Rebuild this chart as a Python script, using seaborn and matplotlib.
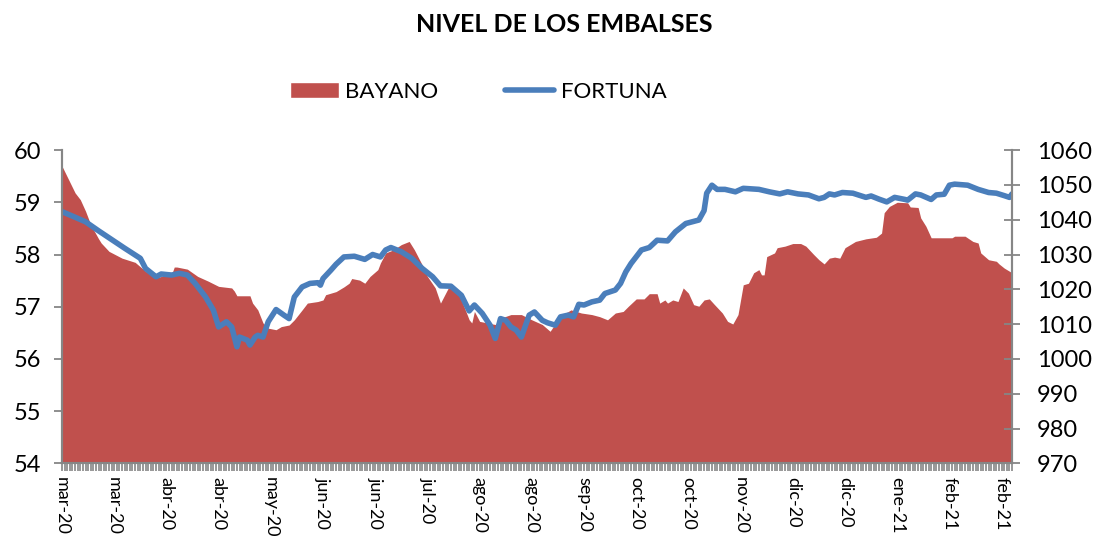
import matplotlib
matplotlib.use("Agg")
import matplotlib.pyplot as plt
from matplotlib.ticker import MultipleLocator
from matplotlib.patches import Patch
from matplotlib.lines import Line2D
import seaborn as sns

sns.set_theme(style="white")
plt.rcParams['font.family'] = ['Lato', 'DejaVu Sans']
plt.rcParams['text.color'] = 'black'

# days counted from 1 mar 2020 (one category per day)
bayano_day = [0, 5, 7, 9, 11, 14, 15, 18, 23, 28, 32, 36, 38, 42, 43, 44, 48, 52, 56, 60,
              65, 66, 67, 72, 73, 75, 77, 79, 82, 84, 87, 89, 92, 94, 98, 100, 101, 105, 108, 110,
              111, 114, 116, 118, 121, 122, 124, 127, 130, 133, 135, 138, 140, 143, 145, 148, 151, 153, 156, 157,
              158, 160, 163, 166, 168, 172, 176, 180, 184, 187, 190, 193, 195, 199, 203, 206, 209, 212, 215, 217,
              220, 223, 225, 228, 229, 231, 232, 234, 236, 238, 240, 242, 244, 246, 248, 250, 253, 255, 257, 259,
              261, 263, 265, 267, 268, 269, 270, 273, 274, 277, 280, 283, 285, 288, 290, 292, 294, 296, 298, 300,
              304, 308, 312, 314, 315, 317, 320, 324, 325, 328, 329, 331, 333, 335, 341, 342, 346, 349, 351, 352,
              355, 358, 359, 361, 364]
bayano_level = [59.69, 59.18, 59.05, 58.83, 58.57, 58.30, 58.22, 58.06, 57.93, 57.85, 57.68, 57.55, 57.58, 57.62, 57.76, 57.76, 57.72, 57.58, 57.49, 57.39,
                57.36, 57.30, 57.21, 57.21, 57.07, 56.94, 56.69, 56.59, 56.56, 56.62, 56.65, 56.75, 56.94, 57.07, 57.10, 57.13, 57.23, 57.29, 57.38, 57.45,
                57.54, 57.51, 57.45, 57.58, 57.71, 57.84, 58.03, 58.09, 58.19, 58.25, 58.09, 57.80, 57.58, 57.36, 57.07, 57.36, 57.33, 57.13, 56.75, 56.69,
                56.91, 56.72, 56.69, 56.66, 56.78, 56.85, 56.85, 56.75, 56.66, 56.53, 56.75, 56.88, 56.94, 56.88, 56.85, 56.81, 56.75, 56.88, 56.91, 57.01,
                57.15, 57.15, 57.25, 57.25, 57.07, 57.13, 57.07, 57.13, 57.10, 57.36, 57.26, 57.04, 57.01, 57.13, 57.15, 57.04, 56.88, 56.72, 56.67, 56.85,
                57.42, 57.45, 57.65, 57.71, 57.61, 57.61, 57.96, 58.03, 58.13, 58.16, 58.21, 58.21, 58.16, 58.00, 57.90, 57.82, 57.93, 57.95, 57.93, 58.13,
                58.25, 58.30, 58.33, 58.41, 58.80, 58.92, 59.00, 58.99, 58.91, 58.90, 58.70, 58.54, 58.32, 58.32, 58.32, 58.35, 58.35, 58.25, 58.22, 58.03,
                57.90, 57.87, 57.82, 57.74, 57.65]

fortuna_day = [0, 5, 9, 14, 19, 24, 30, 32, 36, 38, 42, 45, 48, 51, 55, 58, 60, 63, 65, 67,
               68, 71, 72, 74, 75, 77, 79, 82, 85, 87, 89, 92, 95, 98, 99, 100, 103, 105, 108, 112,
               116, 119, 122, 124, 126, 130, 134, 138, 142, 145, 149, 153, 156, 158, 161, 164, 166, 168, 170, 172,
               174, 176, 179, 181, 184, 186, 189, 191, 194, 196, 198, 200, 203, 206, 208, 212, 214, 216, 218, 222,
               225, 228, 232, 235, 239, 244, 246, 247, 249, 251, 254, 258, 261, 267, 271, 275, 278, 282, 286, 290,
               292, 294, 296, 299, 303, 308, 310, 313, 316, 319, 323, 324, 327, 329, 333, 335, 338, 340, 342, 347,
               351, 355, 358, 361, 363, 364]
fortuna_level = [1042.3, 1040.7, 1039.4, 1036.8, 1034.3, 1031.8, 1028.9, 1026.0, 1023.6, 1024.4, 1024.1, 1024.6, 1024.1, 1021.7, 1017.8, 1014.0, 1009.2, 1010.7, 1009.2, 1003.5,
                 1006.3, 1005.4, 1004.0, 1006.3, 1006.8, 1006.3, 1010.7, 1014.2, 1012.6, 1011.6, 1017.8, 1020.7, 1021.7, 1021.9, 1021.2, 1023.1, 1025.5, 1027.2, 1029.3, 1029.5,
                 1028.6, 1030.0, 1029.3, 1031.3, 1032.0, 1030.8, 1028.9, 1026.0, 1023.6, 1021.0, 1020.9, 1018.3, 1013.8, 1015.5, 1013.1, 1009.7, 1005.9, 1011.6, 1011.1, 1009.2,
                 1008.3, 1006.3, 1012.6, 1013.5, 1011.1, 1010.4, 1009.7, 1012.1, 1012.6, 1012.1, 1015.7, 1015.5, 1016.4, 1016.9, 1018.8, 1019.8, 1021.7, 1025.0, 1027.4, 1031.3,
                 1032.0, 1034.1, 1033.9, 1036.5, 1038.9, 1039.9, 1042.6, 1047.6, 1049.9, 1048.7, 1048.7, 1048.0, 1049.0, 1048.7, 1048.0, 1047.4, 1048.0, 1047.4, 1047.1, 1046.0,
                 1046.4, 1047.4, 1047.1, 1047.8, 1047.6, 1046.4, 1046.8, 1045.9, 1045.1, 1046.4, 1045.8, 1045.6, 1047.4, 1047.1, 1045.8, 1047.1, 1047.3, 1049.9, 1050.2, 1049.9,
                 1048.7, 1047.8, 1047.6, 1046.9, 1046.4, 1047.4]

tick_labels = ['mar-20', 'mar-20', 'abr-20', 'abr-20', 'may-20', 'jun-20', 'jun-20', 'jul-20',
               'ago-20', 'ago-20', 'sep-20', 'oct-20', 'oct-20', 'nov-20', 'dic-20', 'dic-20',
               'ene-21', 'feb-21', 'feb-21']

red = '#C0504D'
blue = '#4A7EBB'
grey = '#868686'

fig = plt.figure(figsize=(10.94, 5.40), dpi=100)
ax = fig.add_axes([0.0567, 0.1417, 0.8684, 0.5805])
ax.fill_between(bayano_day, bayano_level, 54, color=red, lw=0)

ax2 = ax.twinx()
sns.lineplot(x=fortuna_day, y=fortuna_level, ax=ax2, color=blue, lw=4)

ax.set_xlim(0, 364)
ax.set_ylim(54, 60)
ax2.set_ylim(970, 1060)
ax.set_yticks(range(54, 61))
ax2.set_yticks(range(970, 1061, 10))
ax.set_xticks(range(0, 361, 20))
ax.set_xticklabels(tick_labels, rotation=-90, va='top', ha='center')
ax.xaxis.set_minor_locator(MultipleLocator(1))
ax2.set_xlabel('')
ax2.set_ylabel('')

ax.tick_params(axis='x', which='both', direction='out', length=6, width=1.2, color=grey,
               labelsize=13, pad=4, bottom=True, labelcolor='black')
ax.tick_params(axis='y', direction='out', length=6, width=1.3, color=grey, labelsize=17,
               pad=9, left=True, labelcolor='black')
ax2.tick_params(axis='y', direction='inout', length=12, width=1.3, color=grey, labelsize=17,
                pad=12, right=True, labelcolor='black')

for a in (ax, ax2):
    a.spines['top'].set_visible(False)
    for s in ('left', 'right', 'bottom'):
        a.spines[s].set_color(grey)
        a.spines[s].set_linewidth(1.5)
    a.grid(False)

fig.text(0.516, 0.955, 'NIVEL DE LOS EMBALSES', ha='center', va='center',
         fontsize=18, fontweight='bold')

handles = [Patch(facecolor=red, label='BAYANO'),
           Line2D([0], [0], color=blue, lw=4, label='FORTUNA')]
fig.legend(handles=handles, loc='center', bbox_to_anchor=(0.437, 0.83), ncol=2,
           frameon=False, fontsize=16, handlelength=2.2, handletextpad=0.3, columnspacing=3.0)

fig.savefig('out.png', dpi=100)
